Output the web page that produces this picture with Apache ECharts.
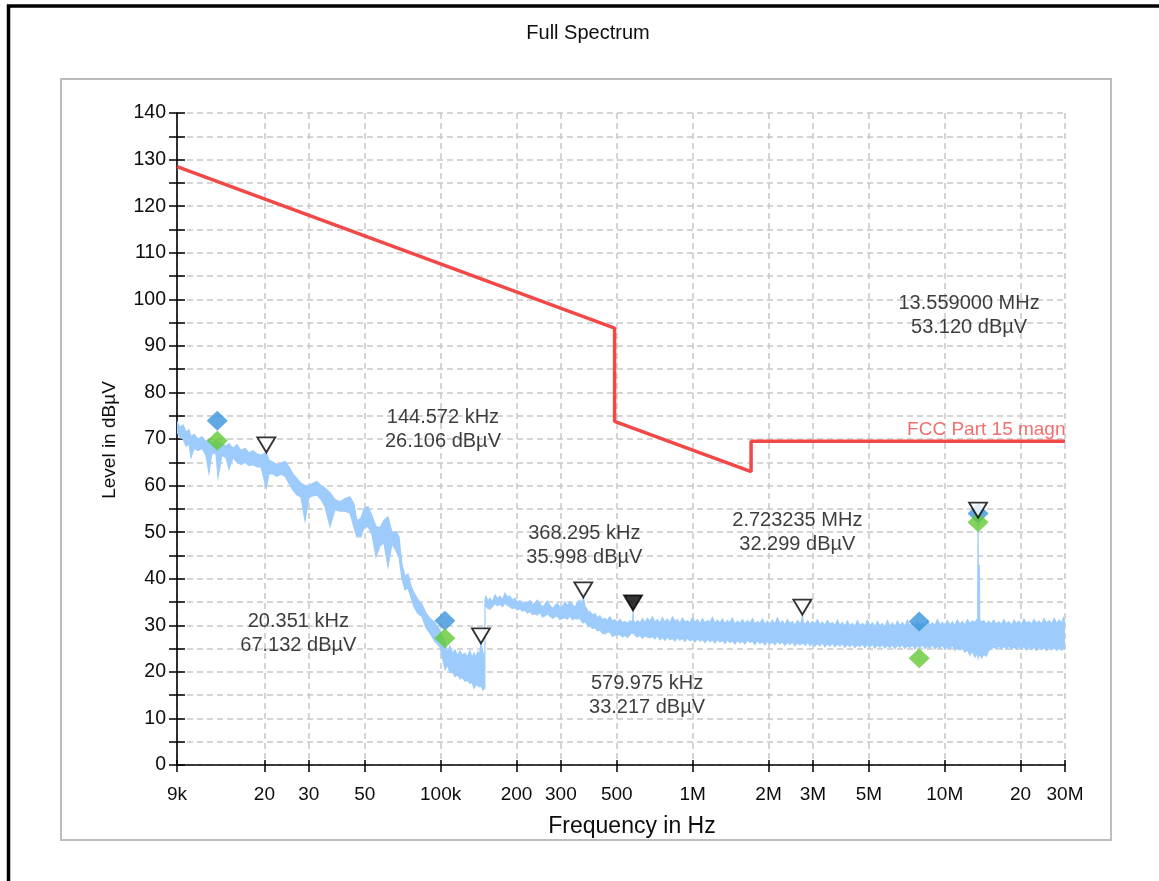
<!DOCTYPE html>
<html>
<head>
<meta charset="utf-8">
<script src="https://cdn.jsdelivr.net/npm/echarts@6/dist/echarts.min.js"></script>
<style>
  html, body { margin: 0; padding: 0; background: #fff; }
  #chart { width: 1159px; height: 881px; }
</style>
</head>
<body>
<div id="chart"></div>
<script>
// ---- Frequency axis ticks (Hz) and the text printed under them ----
const xTickHz = [9e3, 2e4, 3e4, 5e4, 1e5, 2e5, 3e5, 5e5, 1e6, 2e6, 3e6, 5e6, 1e7, 2e7, 3e7];
const xTickLabels = ['9k', '20', '30', '50', '100k', '200', '300', '500', '1M', '2M', '3M', '5M', '10M', '20', '30M'];

// ---- Measured spectrum: [frequency kHz, upper level dBµV, lower level dBµV] ----
const traceRows = [
  [9.00,73.7,71.5],[9.25,72.5,70.3],[9.51,73.0,70.0],[9.77,71.5,68.5],[10.04,72.0,69.0],
  [10.23,70.5,66.0],[10.51,71.0,68.0],[10.90,70.0,67.5],[11.31,70.5,68.0],[11.73,69.5,66.5],
  [12.05,69.8,62.7],[12.39,69.0,67.0],[12.85,69.8,66.8],[13.09,69.5,61.8],[13.57,69.0,66.5],
  [14.08,68.5,66.0],[14.47,69.0,63.5],[15.01,68.0,66.0],[15.57,68.8,65.0],[16.15,67.5,64.5],
  [16.75,68.0,65.0],[17.37,67.0,64.3],[18.02,67.5,64.5],[18.69,66.8,64.0],[19.39,66.5,64.0],
  [20.35,67.1,59.5],[20.85,65.5,62.5],[21.63,65.0,62.5],[22.43,64.5,62.0],[23.27,64.8,62.5],
  [24.13,65.2,62.0],[25.03,64.0,60.5],[25.96,62.5,59.0],[26.93,61.5,58.0],[27.93,60.5,57.5],
  [28.97,60.0,52.5],[30.05,60.0,57.5],[31.16,60.5,57.8],[32.32,60.9,58.0],[33.53,60.0,57.0],
  [34.77,59.5,55.5],[36.41,58.5,51.2],[38.11,57.0,54.8],[39.89,56.5,54.5],[41.75,57.2,54.5],
  [43.71,57.6,54.1],[45.33,56.0,51.0],[46.58,52.5,49.0],[48.32,53.0,49.0],[49.67,55.0,51.0],
  [51.51,55.5,51.2],[53.42,53.5,49.5],[55.41,51.2,44.7],[57.48,51.0,47.0],[59.61,52.5,47.7],
  [61.83,53.3,42.6],[64.13,50.0,47.5],[66.52,50.1,46.0],[68.37,49.0,44.7],[70.27,43.0,40.0],
  [72.22,40.5,37.6],[74.22,41.0,38.0],[76.29,38.5,36.0],[78.41,37.0,34.0],[81.32,35.5,32.5],
  [84.34,34.5,31.9],[87.50,32.6,29.5],[90.70,31.5,28.3],[95.00,30.5,26.5],[99.40,29.0,25.4],
  [104.1,26.2,20.5],[106.5,24.2,21.5],[108.9,25.5,19.8],[111.4,24.0,20.0],[114.0,24.7,19.0],
  [116.6,23.5,19.5],[119.3,24.5,18.5],[122.0,23.6,18.8],[124.9,24.0,18.0],[127.8,23.2,18.2],
  [130.8,24.5,17.5],[133.2,23.0,17.8],[135.6,24.0,16.5],[138.1,23.2,17.2],[140.6,24.3,17.0],
  [142.6,23.5,16.8],[144.6,26.1,17.0],[147.2,24.0,16.1],[149.8,24.0,16.5],
  [150.0,35.5,34.0],[151.3,36.2,34.2],[154.0,35.2,33.6],[157.0,35.8,33.5],[160.5,35.0,34.0],
  [164.3,36.5,34.7],[168.0,35.8,34.2],[172.0,36.2,34.5],[176.0,35.5,34.0],[180.0,36.9,34.8],
  [184.0,36.0,34.3],[188.4,36.3,34.0],[192.5,35.4,33.6],[197.2,35.8,33.8],[201.5,35.0,33.3],
  [206.4,35.3,33.6],[211.0,34.6,33.0],[216.1,35.0,33.3],[221.0,34.9,32.6],[226.2,35.3,33.0],
  [231.5,34.4,32.3],[236.8,34.8,32.5],[242.0,35.4,32.2],[247.9,34.7,32.8],[253.5,33.9,31.8],
  [259.4,34.5,32.0],[265.0,35.2,32.5],[271.5,34.3,32.0],[278.0,33.6,31.5],[284.2,34.2,31.9],
  [290.5,34.7,32.0],[297.5,33.8,31.2],[304.0,34.0,31.5],[311.4,35.0,31.6],[318.5,34.2,31.3],
  [325.9,35.0,32.0],[333.5,34.5,31.2],[341.1,33.8,31.5],[349.0,35.0,31.4],[357.1,35.4,31.5],
  [363.0,34.5,30.8],[368.3,36.0,30.5],[374.0,34.0,30.8],[380.7,33.5,30.2],[386.0,32.6,29.7],
  [391.3,33.0,30.0],[400.0,32.2,29.3],[409.6,32.5,29.5],[419.0,31.6,28.8],[428.7,32.0,29.0],
  [438.5,31.2,28.3],[448.7,31.5,28.2],[459.0,31.0,28.5],[469.7,31.8,28.6],[480.5,30.9,27.6],
  [491.6,31.2,27.9],[503.0,30.6,28.0],[514.6,31.3,28.0],[526.5,30.5,27.5],[538.6,30.8,27.9],
  [551.0,30.4,27.4],[563.7,31.0,28.0],[572.0,30.6,28.4],[578.5,31.2,28.2],[580.0,33.2,28.3],
  [582.0,31.0,28.6],[592.0,30.4,27.8],[604.0,31.0,27.5],[617.8,30.5,27.9],[632.0,31.4,27.2],
  [647.0,30.6,27.8],[661.5,31.5,27.5],[676.7,30.8,27.3],[692.0,31.8,27.6],[708.0,30.6,27.1],
  [724.5,31.2,27.8],[741.4,30.5,26.9],[758.5,31.6,27.4],[776.0,30.7,26.8],[794.0,31.3,27.5],
  [812.4,30.6,26.9],[831.0,31.8,27.2],[850.0,30.8,26.6],[870.0,31.2,27.4],[890.0,30.4,26.8],
  [911.0,31.5,27.2],[932.0,30.7,26.5],[953.0,31.0,27.3],[975.0,30.5,26.7],[998.0,31.6,27.0],
  [1021,30.6,26.4],[1045,31.2,27.2],[1069,30.3,26.6],[1094,31.4,27.0],[1119,30.5,26.3],
  [1145,31.0,27.1],[1171,30.6,26.5],[1198,31.7,26.9],[1226,30.4,26.2],[1254,31.1,27.0],
  [1283,30.5,26.4],[1313,31.3,26.8],[1343,30.3,26.1],[1374,31.0,26.9],[1406,30.6,26.3],
  [1438,31.5,26.7],[1471,30.2,26.0],[1505,30.9,26.8],[1540,30.4,26.2],[1576,31.2,26.6],
  [1612,30.3,26.0],[1649,31.0,26.9],[1687,30.5,26.3],[1726,31.4,26.6],[1766,30.2,25.9],
  [1807,30.8,26.7],[1849,30.4,26.1],[1892,31.3,26.5],[1935,30.1,25.8],[1980,30.9,26.6],
  [2025,30.3,26.0],[2072,31.1,26.4],[2120,30.2,25.8],[2169,31.6,26.6],[2219,30.3,26.0],
  [2270,30.9,26.5],[2323,30.1,25.7],[2376,31.2,26.4],[2431,30.4,25.9],[2487,30.8,26.5],
  [2545,30.0,25.6],[2604,31.0,26.3],[2664,30.4,25.8],[2700,30.8,26.2],[2723,32.3,26.0],
  [2745,30.6,26.3],[2800,30.2,25.7],[2860,31.0,26.4],[2919,30.1,25.6],[2985,30.8,26.2],
  [3053,30.2,25.5],[3123,31.2,26.1],[3198,30.1,25.6],[3270,30.7,26.3],[3345,30.0,25.4],
  [3422,31.0,26.0],[3504,30.2,25.5],[3585,30.6,26.2],[3667,29.9,25.4],[3751,31.1,26.0],
  [3839,30.0,25.5],[3927,30.6,26.1],[4018,29.8,25.3],[4110,30.9,25.9],[4206,29.9,25.4],
  [4303,30.4,26.0],[4402,29.7,25.2],[4504,31.0,25.8],[4609,29.9,25.4],[4715,30.4,26.0],
  [4825,29.8,25.2],[4936,31.1,25.9],[5049,29.9,25.3],[5165,30.5,26.0],[5284,29.7,25.1],
  [5406,30.8,25.8],[5532,29.9,25.3],[5659,30.4,25.9],[5790,29.6,25.1],[5923,31.0,25.7],
  [6061,29.8,25.2],[6200,30.5,25.9],[6343,29.7,25.0],[6490,30.9,25.7],[6641,29.9,25.3],
  [6794,30.6,25.9],[6950,29.8,25.0],[7111,31.1,25.6],[7275,29.9,25.2],[7443,30.5,25.8],
  [7614,29.8,24.9],[7790,30.8,25.6],[7971,30.0,25.2],[8155,30.6,25.9],[8343,29.8,25.0],
  [8535,31.0,25.5],[8733,30.0,25.1],[8934,30.5,25.8],[9140,29.9,24.9],[9350,31.2,25.5],
  [9568,30.1,25.1],[9789,30.6,25.8],[10015,29.9,24.8],[10246,31.0,25.4],[10483,30.1,25.0],
  [10725,30.7,25.7],[10972,29.9,24.6],[11225,31.1,25.2],[11486,30.2,24.7],[11750,30.8,25.3],
  [12020,30.0,24.2],[12300,31.2,24.8],[12585,30.4,23.6],[12870,30.9,24.5],[13173,30.6,23.2],
  [13400,31.2,24.0],[13520,30.8,23.4],[13559,53.1,23.0],[13600,31.0,23.5],[13680,31.5,24.2],
  [13720,43.0,23.3],[13760,31.2,24.0],[14000,30.7,23.0],[14300,31.0,23.8],[14600,30.2,23.4],
  [14950,30.9,24.6],[15300,30.3,25.0],[15650,31.1,25.4],[16000,30.2,24.9],[16380,30.8,25.6],
  [16760,30.1,25.0],[17150,31.2,25.5],[17550,30.3,24.8],[17960,30.8,25.6],[18370,30.0,24.9],
  [18800,31.1,25.4],[19240,30.3,24.8],[19680,30.9,25.5],[20140,30.1,24.9],[20610,31.3,25.3],
  [21090,30.4,24.7],[21580,30.8,25.5],[22080,30.2,24.8],[22600,31.2,25.3],[23120,30.4,24.6],
  [23660,30.9,25.4],[24210,30.2,24.8],[24770,31.4,25.2],[25350,30.5,24.6],[25940,31.0,25.4],
  [26540,30.3,24.7],[27160,31.5,25.2],[27790,30.4,24.6],[28440,31.1,25.3],[29100,30.5,24.6],
  [29560,31.6,25.0],[30000,30.8,24.8]
];

// ---- FCC Part 15 magnetic-field limit line ----
const limitFreqHz = [9e3, 490e3, 490e3, 1705e3, 1705e3, 30e6];
const limitLevel = [128.5, 93.8, 73.8, 63.0, 69.5, 69.5];
const limitName = 'FCC Part 15 magn';

// ---- Final measurement results (two detectors) ----
const finalFreqHz = [13.0e3, 104e3, 7.92e6, 13.559e6];
const finalBlueLevel = [73.9, 31.0, 30.8, 54.0];
const finalGreenLevel = [69.6, 27.2, 22.9, 52.1];

// ---- Peak markers ----
const peakFreqHz = [20351, 144572, 368295, 579975, 2723235, 13559000];
const peakLevel = [67.132, 26.106, 35.998, 33.217, 32.299, 53.120];
const peakActive = [false, false, false, true, false, false];

// ---- Layout: where each peak readout sits relative to its marker (px) ----
const peakLabelOffset = [[32, 181], [-38, -214], [1, -52], [14, 85], [-5, -82], [-9, -202]];

// ---------------------------------------------------------------------------
const FONT = '"Liberation Sans", Arial, sans-serif';
const lg = hz => Math.log10(hz);
const xTickPos = xTickHz.map(lg);
const X_MIN = xTickPos[0];
const X_MAX = xTickPos[xTickPos.length - 1];

function tickLabel(v) {
  let best = 0;
  for (let i = 1; i < xTickPos.length; i++) {
    if (Math.abs(xTickPos[i] - v) < Math.abs(xTickPos[best] - v)) best = i;
  }
  return xTickLabels[best];
}
function freqText(hz) {
  return hz >= 1e6 ? (hz / 1e6).toFixed(6) + ' MHz' : (hz / 1e3).toFixed(3) + ' kHz';
}

const gridLine = { color: '#c8c8c8', width: 1.5, type: [6, 4] };
const tickLine = { color: '#000', width: 1.5 };
const TEXT = '#0d0d0d';

const chart = echarts.init(document.getElementById('chart'), null, { renderer: 'canvas' });

const option = {
  animation: false,
  backgroundColor: '#ffffff',
  grid: { left: 177, right: 94, top: 113, bottom: 116, containLabel: false, outerBoundsMode: 'none' },
  xAxis: [
    {
      type: 'value', min: X_MIN, max: X_MAX, position: 'bottom',
      axisLine: { show: true, onZero: false, lineStyle: { color: '#000', width: 1.6 } },
      axisTick: { show: true, customValues: xTickPos, length: 7, lineStyle: tickLine },
      axisLabel: {
        show: true, customValues: xTickPos, formatter: tickLabel, margin: 20,
        fontSize: 19, fontFamily: FONT, color: TEXT
      },
      splitLine: { show: true, lineStyle: gridLine }
    },
    {
      type: 'value', min: X_MIN, max: X_MAX, position: 'bottom',
      axisLine: { show: false }, axisLabel: { show: false }, splitLine: { show: false },
      axisTick: { show: true, inside: true, customValues: xTickPos, length: 5, lineStyle: tickLine }
    }
  ],
  yAxis: [
    {
      type: 'value', min: 0, max: 140, interval: 10, position: 'left',
      axisLine: { show: true, onZero: false, lineStyle: { color: '#000', width: 1.6 } },
      axisTick: { show: true, length: 8, lineStyle: tickLine },
      minorTick: { show: true, splitNumber: 2, length: 8, lineStyle: tickLine },
      axisLabel: { margin: 11, fontSize: 19.5, fontFamily: FONT, color: TEXT },
      splitLine: { show: true, lineStyle: gridLine },
      minorSplitLine: { show: true, lineStyle: gridLine }
    },
    {
      type: 'value', min: 0, max: 140, interval: 10, position: 'left',
      axisLine: { show: false }, axisLabel: { show: false }, splitLine: { show: false },
      axisTick: { show: true, inside: true, length: 8, lineStyle: tickLine },
      minorTick: { show: true, splitNumber: 2, length: 8, lineStyle: tickLine }
    }
  ],
  graphic: [
    { type: 'polyline', silent: true, shape: { points: [[8.5, 881], [8.5, 6], [1159, 6]] },
      style: { stroke: '#000', lineWidth: 3.5, fill: 'none' } },
    { type: 'rect', silent: true, shape: { x: 61, y: 79, width: 1050, height: 761 },
      style: { stroke: '#bdbdbd', lineWidth: 2, fill: 'none' } },
    { type: 'text', silent: true, x: 588, y: 33,
      style: { text: 'Full Spectrum', font: '20px ' + FONT, fill: TEXT, align: 'center', verticalAlign: 'middle', textAlign: 'center', textVerticalAlign: 'middle' } },
    { type: 'text', silent: true, x: 632, y: 827,
      style: { text: 'Frequency in Hz', font: '23px ' + FONT, fill: TEXT, align: 'center', verticalAlign: 'middle', textAlign: 'center', textVerticalAlign: 'middle' } },
    { type: 'text', silent: true, x: 110, y: 440, rotation: Math.PI / 2,
      style: { text: 'Level in dBµV', font: '19px ' + FONT, fill: TEXT, align: 'center', verticalAlign: 'middle', textAlign: 'center', textVerticalAlign: 'middle' } }
  ],
  series: [
    {
      // spectrum drawn as a filled envelope between upper and lower level
      name: 'Spectrum', type: 'custom', clip: true, silent: true, z: 2,
      xAxisIndex: 0, yAxisIndex: 0,
      data: traceRows.map(r => [lg(r[0] * 1e3), r[1], r[2]]),
      encode: { x: 0, y: [1, 2] },
      renderItem: function (params, api) {
        if (params.dataIndex !== 0) return null;
        const top = traceRows.map(r => api.coord([lg(r[0] * 1e3), r[1]]));
        const bottom = traceRows.map(r => api.coord([lg(r[0] * 1e3), r[2]])).reverse();
        return {
          type: 'polygon',
          shape: { points: top.concat(bottom) },
          style: { fill: '#9ccbfc', stroke: '#9ccbfc', lineWidth: 1.2 }
        };
      }
    },
    {
      name: limitName, type: 'line', z: 3, silent: true,
      data: limitFreqHz.map((f, i) => [lg(f), limitLevel[i]]),
      showSymbol: false, symbol: 'none',
      lineStyle: { color: '#f34848', width: 3.5 }
    },
    {
      name: 'limit tag', type: 'scatter', z: 6, silent: true,
      data: [[lg(limitFreqHz[limitFreqHz.length - 1]), limitLevel[limitLevel.length - 1]]],
      symbolSize: 1, itemStyle: { color: 'rgba(0,0,0,0)' },
      label: {
        show: true, position: 'left', distance: 0, offset: [1, -12],
        formatter: limitName, fontSize: 19, fontFamily: FONT, color: '#f04a4a'
      }
    },
    {
      name: 'Final blue', type: 'scatter', z: 4, silent: true,
      data: finalFreqHz.map((f, i) => [lg(f), finalBlueLevel[i]]),
      symbol: 'diamond', symbolSize: [21, 20],
      itemStyle: { color: '#3a93db' }
    },
    {
      name: 'Final green', type: 'scatter', z: 4, silent: true,
      data: finalFreqHz.map((f, i) => [lg(f), finalGreenLevel[i]]),
      symbol: 'diamond', symbolSize: [21, 20],
      itemStyle: { color: '#63c934' }
    },
    {
      name: 'Peaks', type: 'scatter', z: 5, silent: true,
      data: peakFreqHz.map((f, i) => ({
        value: [lg(f), peakLevel[i]],
        itemStyle: { color: peakActive[i] ? '#000' : '#fff' }
      })),
      symbol: 'path://M0,0L18,0L9,15Z', symbolSize: [18, 15], symbolOffset: [0, -7.5],
      itemStyle: { borderColor: '#000', borderWidth: 1.8 }
    },
    {
      name: 'Peak readouts', type: 'scatter', z: 6, silent: true,
      data: peakFreqHz.map((f, i) => ({
        value: [lg(f), peakLevel[i]],
        label: { offset: peakLabelOffset[i] }
      })),
      symbolSize: 1, itemStyle: { color: 'rgba(0,0,0,0)' },
      label: {
        show: true, position: 'inside', align: 'center', verticalAlign: 'middle',
        fontSize: 20, lineHeight: 24, fontFamily: FONT, color: TEXT,
        formatter: p => freqText(peakFreqHz[p.dataIndex]) + '\n' + peakLevel[p.dataIndex].toFixed(3) + ' dBµV'
      }
    }
  ]
};

chart.setOption(option);
</script>
</body>
</html>
